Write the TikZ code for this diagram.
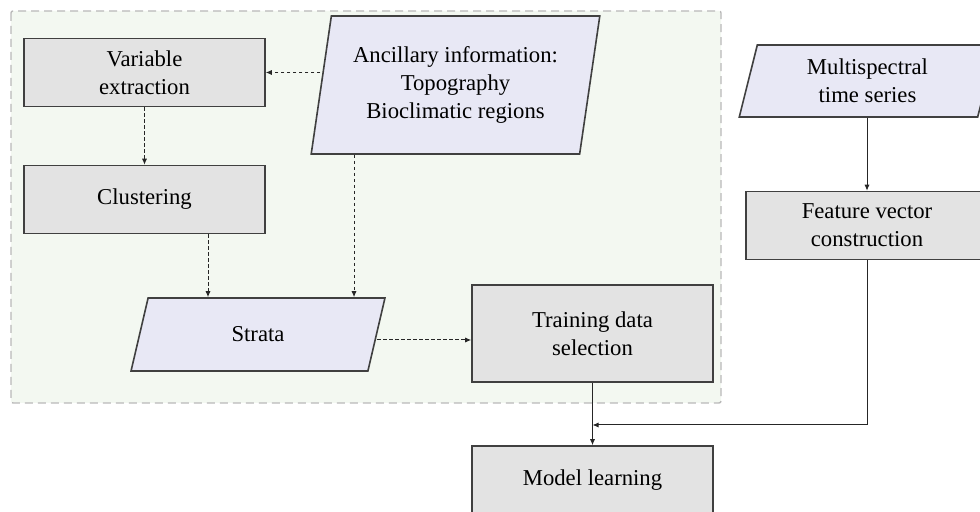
\documentclass[tikz,border=0pt]{standalone}
\usepackage{fontspec}
\setmainfont{Liberation Serif}
\usepackage{xcolor}
\usetikzlibrary{positioning}
\usetikzlibrary{shapes.geometric}
\usetikzlibrary{arrows.meta,calc}

\definecolor{boxgray}{RGB}{227,227,227}
\definecolor{datablue}{RGB}{232,232,245}
\definecolor{zonegreen}{RGB}{243,248,241}
\definecolor{edgegray}{RGB}{64,64,64}

\tikzset{
    procbox/.style={rectangle, draw=edgegray, line width=0.8pt, fill=boxgray,
        align=center, minimum width=120.5pt, minimum height=34pt, inner sep=2pt},
    databox/.style={trapezium, trapezium left angle=78.5, trapezium right angle=101.5,
        trapezium stretches=true, draw=edgegray, line width=0.8pt, fill=datablue,
        align=center, inner sep=2pt},
    link/.style={-{Latex[length=3pt,width=2.6pt]}, line width=0.5pt, draw=black!85},
    dlink/.style={link, dash pattern=on 1.7pt off 1.3pt},
}

\begin{document}
\begin{tikzpicture}[x=0.5pt, y=-0.5pt, font=\fontsize{11.35}{14}\selectfont]
    \useasboundingbox (0,0) rectangle (980,512);
    \clip (0,0) rectangle (980,512);

    % Stratification zone
    \draw[draw=gray!55, line width=0.7pt, dash pattern=on 4pt off 2.5pt,
        fill=zonegreen, rounded corners=1pt] (11,11) rectangle (721,403);

    % Processing steps and data
    \node[procbox] (vars) at (144.5,72.5) {Variable\\extraction};
    \node[procbox] (clust) at (144.5,199.5) {Clustering};
    \node[databox, minimum width=144.5pt, minimum height=69pt] (anc) at (455.5,85)
        {Ancillary information:\\Topography\\Bioclimatic regions};
    \node[databox, minimum width=127pt, minimum height=36.5pt] (strata) at (258,334.5) {Strata};
    \node[procbox, minimum height=48.5pt] (train) at (592.5,333.5) {Training data\\selection};
    \node[databox, minimum width=128.5pt, minimum height=36pt] (multi) at (867.5,81)
        {Multispectral\\time series};
    \node[procbox, minimum width=121pt] (feat) at (867,225.5) {Feature vector\\construction};
    \node[procbox] (model) at (592.5,480) {Model learning};
    \coordinate (join) at (592.5,425);

    % Dashed links inside the zone
    \draw[dlink] (anc.west |- vars.east) -- (vars.east);
    \draw[dlink] (vars) -- (clust);
    \coordinate (clustout) at ($(clust.south)+(63.5,0)$);
    \draw[dlink] (clustout) -- (clustout |- strata.north);
    \coordinate (ancout) at ($(anc.south)+(-101.5,0)$);
    \draw[dlink] (ancout) -- (ancout |- strata.north);
    \coordinate (strataout) at ($(strata.east)+(0,5.5)$);
    \draw[dlink] (strataout) -- (strataout -| train.west);

    % Solid links
    \draw[link] (feat.north |- multi.south) -- (feat.north);
    \draw[link] (train) -- (model);
    \draw[link] (feat.south) |- (join);
\end{tikzpicture}
\end{document}
